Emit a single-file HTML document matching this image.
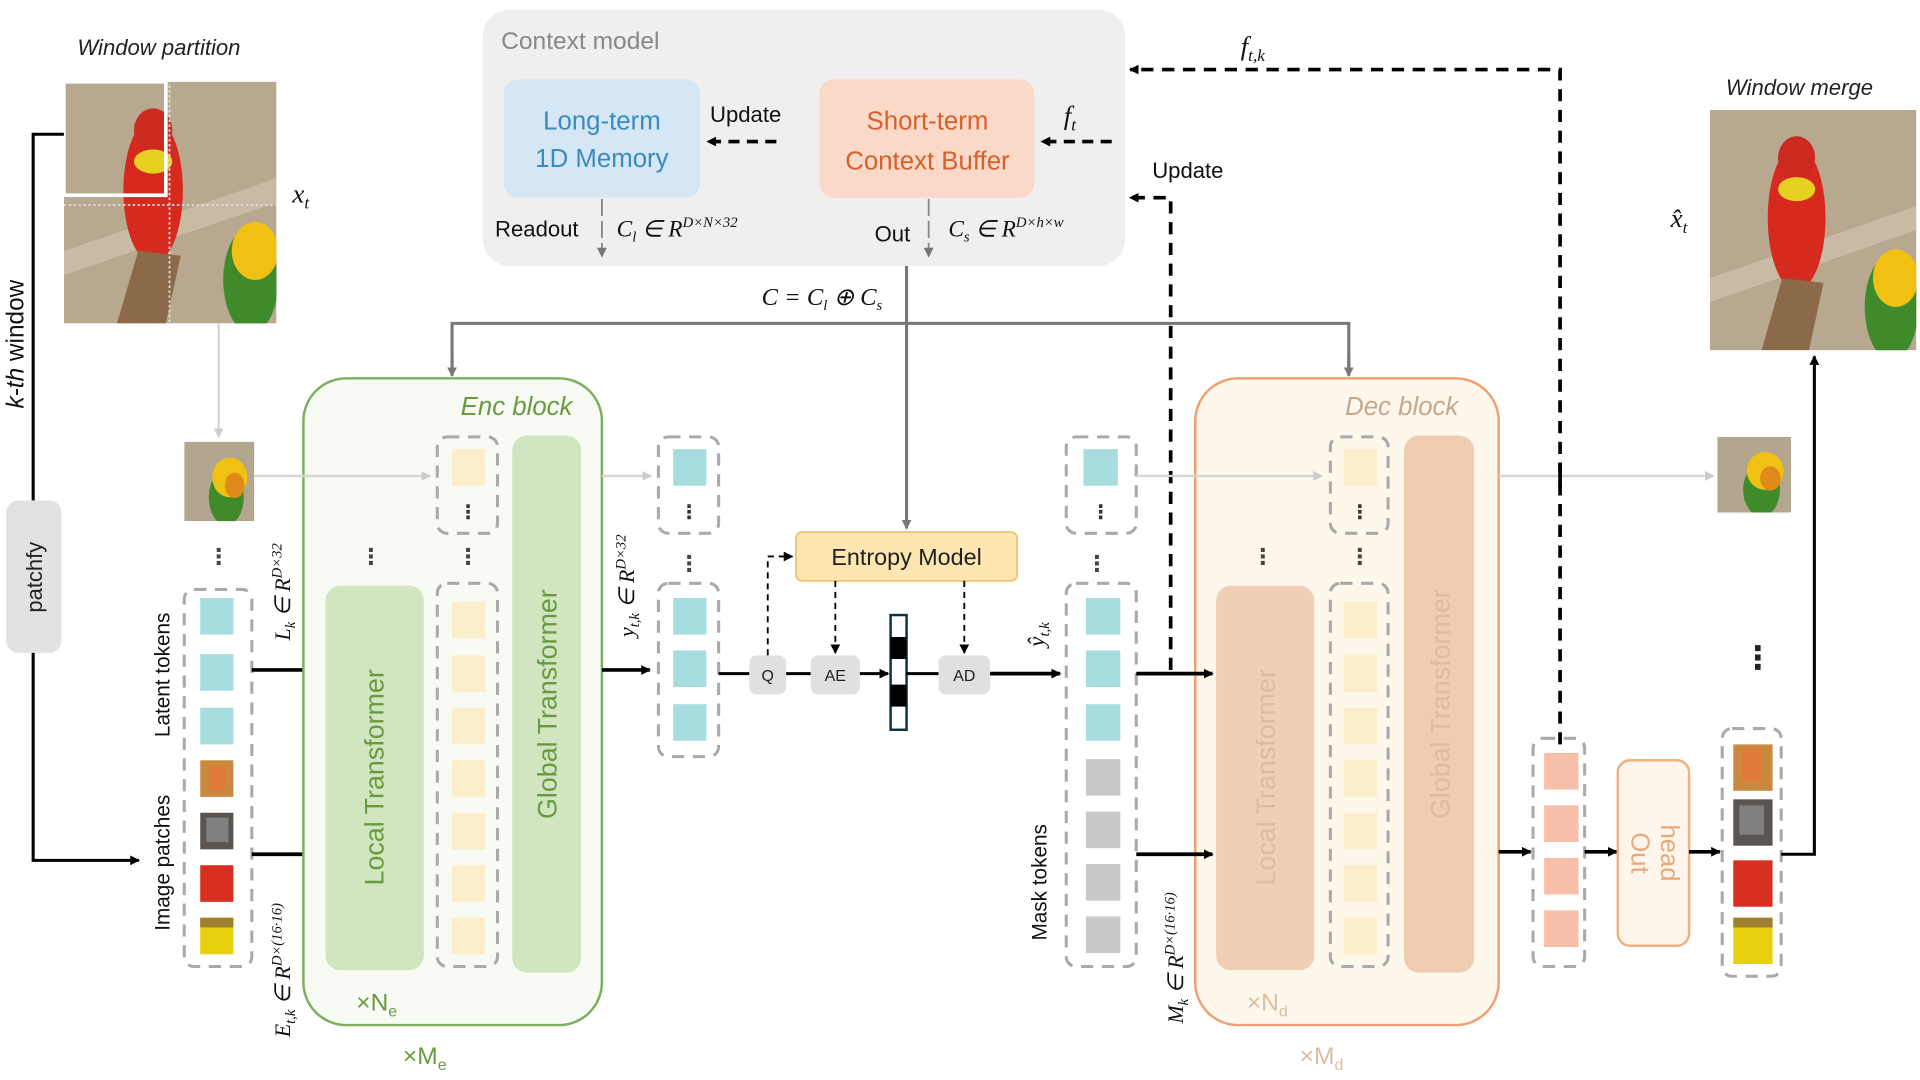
<!DOCTYPE html>
<html><head><meta charset="utf-8"><style>
html,body{margin:0;padding:0;background:#fff;width:1920px;height:1080px;overflow:hidden}
svg{display:block}
text{font-family:"Liberation Sans","DejaVu Sans",sans-serif}
.it{font-family:"Liberation Serif",serif;font-style:italic}
.si{font-style:italic}
</style></head><body>
<svg width="1920" height="1080" viewBox="0 0 1563 885" preserveAspectRatio="none" xmlns="http://www.w3.org/2000/svg">
<defs>
<marker id="ab" markerWidth="8" markerHeight="8" refX="7" refY="4" orient="auto" markerUnits="userSpaceOnUse"><path d="M0,0 L8,4 L0,8 z" fill="#000"/></marker>
<marker id="ag" markerWidth="8" markerHeight="8" refX="7" refY="4" orient="auto" markerUnits="userSpaceOnUse"><path d="M0,0 L8,4 L0,8 z" fill="#777"/></marker>
<marker id="al" markerWidth="8" markerHeight="8" refX="7" refY="4" orient="auto" markerUnits="userSpaceOnUse"><path d="M0,0 L8,4 L0,8 z" fill="#ccc"/></marker>
<g id="parrot">
<rect x="0" y="0" width="100" height="100" fill="#b8a890"/>
<path d="M0,70 L100,40 L100,50 L0,80z" fill="#cfc2ad" opacity=".7"/>
<ellipse cx="42" cy="45" rx="14" ry="30" fill="#d62a1f"/>
<ellipse cx="42" cy="20" rx="9" ry="9" fill="#cc2a1f"/>
<ellipse cx="42" cy="33" rx="9" ry="5" fill="#e6d020"/>
<path d="M25,100 L35,70 L55,72 L48,100z" fill="#8a6a48"/>
<ellipse cx="88" cy="82" rx="13" ry="22" fill="#3f8a2a"/>
<ellipse cx="90" cy="70" rx="11" ry="12" fill="#f0c012"/>
</g>
<g id="parrot2">
<rect x="0" y="0" width="100" height="100" fill="#b3a68f"/>
<ellipse cx="60" cy="70" rx="25" ry="35" fill="#3f8a2a"/>
<ellipse cx="65" cy="45" rx="25" ry="25" fill="#f0c012"/>
<ellipse cx="72" cy="55" rx="14" ry="16" fill="#e08a1a"/>
</g>
</defs>

<!-- Left images -->
<text x="63" y="45" class="si" font-size="18" fill="#222">Window partition</text>
<svg x="52" y="67" width="173" height="198" viewBox="0 0 100 100" preserveAspectRatio="none"><use href="#parrot"/></svg>
<line x1="138" y1="70" x2="138" y2="265" stroke="#ddd" stroke-width="1.5" stroke-dasharray="2,2"/>
<line x1="52" y1="168" x2="225" y2="168" stroke="#ddd" stroke-width="1.5" stroke-dasharray="2,2"/>
<rect x="52" y="67" width="83" height="93" fill="none" stroke="#fff" stroke-width="3"/>
<text x="238" y="166" class="it" font-size="22" fill="#111">x<tspan font-size="14" dy="5">t</tspan></text>

<path d="M52,110 H27 V705 H113" fill="none" stroke="#000" stroke-width="2.5" marker-end="url(#ab)"/>
<rect x="5" y="410" width="45" height="125" rx="10" fill="#e2e2e2"/>
<text transform="translate(34,473) rotate(-90)" text-anchor="middle" font-size="18" fill="#222">patchfy</text>
<rect x="3" y="205" width="22" height="150" fill="#fff"/>
<text transform="translate(19,282) rotate(-90)" text-anchor="middle" font-size="20" fill="#111"><tspan font-style="italic">k-th</tspan> window</text>

<line x1="178" y1="265" x2="178" y2="358" stroke="#ccc" stroke-width="1.5" marker-end="url(#al)"/>
<svg x="150" y="362" width="57" height="65" viewBox="0 0 100 100" preserveAspectRatio="none"><use href="#parrot2"/></svg>
<text x="178" y="462" text-anchor="middle" font-size="18" font-weight="bold" fill="#444">⋮</text>

<rect x="150" y="483" width="55" height="309" rx="8" fill="none" stroke="#aaa" stroke-width="2.5" stroke-dasharray="10,7"/>
<rect x="163" y="490" width="27" height="30" fill="#a8dde0"/>
<rect x="163" y="536" width="27" height="30" fill="#a8dde0"/>
<rect x="163" y="580" width="27" height="30" fill="#a8dde0"/>
<rect x="163" y="623" width="27" height="30" fill="#c98a40"/><rect x="170" y="628" width="14" height="20" fill="#e07a3a"/>
<rect x="163" y="666" width="27" height="30" fill="#5a5550"/><rect x="168" y="670" width="18" height="20" fill="#808080"/>
<rect x="163" y="709" width="27" height="30" fill="#d83020"/>
<rect x="163" y="752" width="27" height="30" fill="#e8d010"/><rect x="163" y="752" width="27" height="8" fill="#a08030"/>
<text transform="translate(138,553) rotate(-90)" text-anchor="middle" font-size="17" fill="#111">Latent tokens</text>
<text transform="translate(138,707) rotate(-90)" text-anchor="middle" font-size="17" fill="#111">Image patches</text>
<text transform="translate(236,485) rotate(-90)" text-anchor="middle" class="it" font-size="18" fill="#111">L<tspan font-size="12" dy="4">k</tspan><tspan dy="-4"> ∈ R</tspan><tspan font-size="12" dy="-7">D×32</tspan></text>
<text transform="translate(236,795) rotate(-90)" text-anchor="middle" class="it" font-size="18" fill="#111">E<tspan font-size="12" dy="4">t,k</tspan><tspan dy="-4"> ∈ R</tspan><tspan font-size="12" dy="-7">D×(16·16)</tspan></text>
<line x1="205" y1="549" x2="262" y2="549" stroke="#000" stroke-width="3" marker-end="url(#ab)"/>
<line x1="205" y1="700" x2="262" y2="700" stroke="#000" stroke-width="3" marker-end="url(#ab)"/>

<!-- Enc block -->
<rect x="247" y="310" width="243" height="530" rx="35" fill="#f8fbf3" stroke="#7cae5c" stroke-width="2"/>
<text x="375" y="340" class="si" font-size="21" fill="#6a9a40">Enc block</text>
<line x1="207" y1="390" x2="350" y2="390" stroke="#d5d5d5" stroke-width="2" marker-end="url(#al)"/>
<rect x="265" y="480" width="80" height="315" rx="12" fill="#d0e5c0"/>
<text transform="translate(312,637) rotate(-90)" text-anchor="middle" font-size="22" fill="#6a9a40">Local Transformer</text>
<text x="302" y="462" text-anchor="middle" font-size="18" font-weight="bold" fill="#444">⋮</text>
<rect x="356" y="358" width="49" height="79" rx="8" fill="none" stroke="#aaa" stroke-width="2.5" stroke-dasharray="10,7"/>
<rect x="368" y="368" width="27" height="30" fill="#fdeecb"/>
<text x="381" y="425" text-anchor="middle" font-size="16" font-weight="bold" fill="#333">⋮</text>
<text x="381" y="462" text-anchor="middle" font-size="18" font-weight="bold" fill="#444">⋮</text>
<rect x="356" y="478" width="49" height="314" rx="8" fill="none" stroke="#aaa" stroke-width="2.5" stroke-dasharray="10,7"/>
<g fill="#fdeecb"><rect x="368" y="493" width="27" height="30"/><rect x="368" y="537" width="27" height="30"/><rect x="368" y="580" width="27" height="30"/><rect x="368" y="623" width="27" height="30"/><rect x="368" y="666" width="27" height="30"/><rect x="368" y="709" width="27" height="30"/><rect x="368" y="752" width="27" height="30"/></g>
<rect x="417" y="357" width="56" height="440" rx="12" fill="#d0e5c0"/>
<text transform="translate(453,577) rotate(-90)" text-anchor="middle" font-size="22" fill="#6a9a40">Global Transformer</text>
<text x="290" y="828" font-size="20" fill="#6a9a40">×N<tspan font-size="13" dy="5">e</tspan></text>
<text x="328" y="872" font-size="20" fill="#6a9a40">×M<tspan font-size="13" dy="5">e</tspan></text>

<line x1="490" y1="390" x2="530" y2="390" stroke="#d5d5d5" stroke-width="2" marker-end="url(#al)"/>
<rect x="536" y="358" width="49" height="79" rx="8" fill="none" stroke="#aaa" stroke-width="2.5" stroke-dasharray="10,7"/>
<rect x="548" y="368" width="27" height="30" fill="#a8dde0"/>
<text x="561" y="425" text-anchor="middle" font-size="16" font-weight="bold" fill="#333">⋮</text>
<text x="561" y="468" text-anchor="middle" font-size="18" font-weight="bold" fill="#444">⋮</text>
<rect x="536" y="478" width="49" height="142" rx="8" fill="none" stroke="#aaa" stroke-width="2.5" stroke-dasharray="10,7"/>
<rect x="548" y="490" width="27" height="30" fill="#a8dde0"/><rect x="548" y="533" width="27" height="30" fill="#a8dde0"/><rect x="548" y="577" width="27" height="30" fill="#a8dde0"/>
<text transform="translate(516,480) rotate(-90)" text-anchor="middle" class="it" font-size="18" fill="#111">y<tspan font-size="12" dy="4">t,k</tspan><tspan dy="-4"> ∈ R</tspan><tspan font-size="12" dy="-7">D×32</tspan></text>
<line x1="490" y1="549" x2="529" y2="549" stroke="#000" stroke-width="3" marker-end="url(#ab)"/>

<!-- Entropy coding -->
<line x1="585" y1="552" x2="610" y2="552" stroke="#000" stroke-width="2.5"/>
<rect x="610" y="537" width="30" height="32" rx="6" fill="#e0e0e0"/><text x="625" y="558" text-anchor="middle" font-size="13" fill="#222">Q</text>
<line x1="640" y1="552" x2="660" y2="552" stroke="#000" stroke-width="2.5"/>
<rect x="660" y="537" width="40" height="32" rx="6" fill="#e0e0e0"/><text x="680" y="558" text-anchor="middle" font-size="13" fill="#222">AE</text>
<line x1="700" y1="552" x2="723" y2="552" stroke="#000" stroke-width="2.5" marker-end="url(#ab)"/>
<rect x="725" y="504" width="13" height="94" fill="#fff" stroke="#0c3040" stroke-width="2"/>
<rect x="725" y="522" width="13" height="18" fill="#000"/><rect x="725" y="561" width="13" height="18" fill="#000"/>
<line x1="738" y1="552" x2="764" y2="552" stroke="#000" stroke-width="2.5"/>
<rect x="764" y="537" width="42" height="32" rx="6" fill="#e0e0e0"/><text x="785" y="558" text-anchor="middle" font-size="13" fill="#222">AD</text>
<line x1="806" y1="552" x2="863" y2="552" stroke="#000" stroke-width="3" marker-end="url(#ab)"/>
<text transform="translate(850,520) rotate(-90)" text-anchor="middle" class="it" font-size="19" fill="#111">ŷ<tspan font-size="12" dy="4">t,k</tspan></text>
<rect x="648" y="436" width="180" height="40" rx="5" fill="#fde6b0" stroke="#f0c470" stroke-width="1.5"/>
<text x="738" y="463" text-anchor="middle" font-size="19" fill="#222">Entropy Model</text>
<path d="M625,537 V456 H645" fill="none" stroke="#000" stroke-width="1.5" stroke-dasharray="5,4" marker-end="url(#ab)"/>
<line x1="680" y1="476" x2="680" y2="535" stroke="#000" stroke-width="1.5" stroke-dasharray="5,4" marker-end="url(#ab)"/>
<line x1="785" y1="476" x2="785" y2="535" stroke="#000" stroke-width="1.5" stroke-dasharray="5,4" marker-end="url(#ab)"/>

<!-- Context model -->
<rect x="393" y="8" width="523" height="210" rx="22" fill="#efefef"/>
<text x="408" y="40" font-size="20" fill="#888">Context model</text>
<rect x="410" y="65" width="160" height="97" rx="12" fill="#d5e6f5"/>
<text x="490" y="106" text-anchor="middle" font-size="21" fill="#3a8cc0">Long-term</text>
<text x="490" y="137" text-anchor="middle" font-size="21" fill="#3a8cc0">1D Memory</text>
<rect x="667" y="65" width="175" height="97" rx="12" fill="#fbd9c9"/>
<text x="755" y="106" text-anchor="middle" font-size="21" fill="#d8602a">Short-term</text>
<text x="755" y="139" text-anchor="middle" font-size="21" fill="#d8602a">Context Buffer</text>
<text x="578" y="100" font-size="18" fill="#111">Update</text>
<line x1="632" y1="116" x2="576" y2="116" stroke="#000" stroke-width="3" stroke-dasharray="9,6" marker-end="url(#ab)"/>
<text x="866" y="102" class="it" font-size="22" fill="#111">f<tspan font-size="14" dy="5">t</tspan></text>
<line x1="905" y1="116" x2="848" y2="116" stroke="#000" stroke-width="3" stroke-dasharray="9,6" marker-end="url(#ab)"/>
<text x="403" y="194" font-size="18" fill="#111">Readout</text>
<line x1="490" y1="163" x2="490" y2="210" stroke="#888" stroke-width="1.5" stroke-dasharray="14,4" marker-end="url(#ag)"/>
<text x="502" y="194" class="it" font-size="19" fill="#111">C<tspan font-size="12" dy="4">l</tspan><tspan dy="-4"> ∈ R</tspan><tspan font-size="12" dy="-8">D×N×32</tspan></text>
<text x="712" y="198" font-size="18" fill="#111">Out</text>
<line x1="756" y1="163" x2="756" y2="210" stroke="#888" stroke-width="1.5" stroke-dasharray="14,4" marker-end="url(#ag)"/>
<text x="772" y="194" class="it" font-size="19" fill="#111">C<tspan font-size="12" dy="4">s</tspan><tspan dy="-4"> ∈ R</tspan><tspan font-size="12" dy="-8">D×h×w</tspan></text>
<text x="620" y="250" class="it" font-size="20" fill="#111">C = C<tspan font-size="12" dy="4">l</tspan><tspan dy="-4"> ⊕ C</tspan><tspan font-size="12" dy="4">s</tspan></text>
<line x1="738" y1="218" x2="738" y2="433" stroke="#777" stroke-width="2.5" marker-end="url(#ag)"/>
<path d="M368,307 V265 H1098 V307" fill="none" stroke="#777" stroke-width="2.5"/>
<line x1="368" y1="290" x2="368" y2="308" stroke="#777" stroke-width="2.5" marker-end="url(#ag)"/>
<line x1="1098" y1="290" x2="1098" y2="308" stroke="#777" stroke-width="2.5" marker-end="url(#ag)"/>

<!-- feedback dashed -->
<text x="1010" y="45" class="it" font-size="22" fill="#111">f<tspan font-size="14" dy="5">t,k</tspan></text>
<path d="M1270,610 V57 H920" fill="none" stroke="#000" stroke-width="3" stroke-dasharray="10,7" marker-end="url(#ab)"/>
<text x="938" y="146" font-size="18" fill="#111">Update</text>
<path d="M953,549 V162 H920" fill="none" stroke="#000" stroke-width="3" stroke-dasharray="10,7" marker-end="url(#ab)"/>

<!-- Decoder side -->
<rect x="868" y="358" width="57" height="79" rx="8" fill="none" stroke="#aaa" stroke-width="2.5" stroke-dasharray="10,7"/>
<rect x="882" y="368" width="28" height="30" fill="#a8dde0"/>
<text x="896" y="425" text-anchor="middle" font-size="16" font-weight="bold" fill="#333">⋮</text>
<text x="893" y="468" text-anchor="middle" font-size="18" font-weight="bold" fill="#444">⋮</text>
<rect x="868" y="478" width="57" height="314" rx="8" fill="none" stroke="#aaa" stroke-width="2.5" stroke-dasharray="10,7"/>
<g fill="#a8dde0"><rect x="884" y="490" width="28" height="30"/><rect x="884" y="533" width="28" height="30"/><rect x="884" y="577" width="28" height="30"/></g>
<g fill="#c9c9c9"><rect x="884" y="622" width="28" height="30"/><rect x="884" y="665" width="28" height="30"/><rect x="884" y="708" width="28" height="30"/><rect x="884" y="751" width="28" height="30"/></g>
<text transform="translate(852,723) rotate(-90)" text-anchor="middle" font-size="17" fill="#111">Mask tokens</text>
<text transform="translate(963,785) rotate(-90)" text-anchor="middle" class="it" font-size="18" fill="#111">M<tspan font-size="12" dy="4">k</tspan><tspan dy="-4"> ∈ R</tspan><tspan font-size="12" dy="-7">D×(16·16)</tspan></text>

<rect x="973" y="310" width="247" height="530" rx="35" fill="#fdf7ec" stroke="#f0a070" stroke-width="2"/>
<text x="1095" y="340" class="si" font-size="21" fill="#c9a68a">Dec block</text>
<line x1="925" y1="390" x2="1076" y2="390" stroke="#d5d5d5" stroke-width="2" marker-end="url(#al)"/>
<line x1="1220" y1="390" x2="1395" y2="390" stroke="#d5d5d5" stroke-width="2" marker-end="url(#al)"/>
<line x1="1270" y1="380" x2="1270" y2="400" stroke="#000" stroke-width="3"/>
<line x1="925" y1="552" x2="987" y2="552" stroke="#000" stroke-width="3" marker-end="url(#ab)"/>
<line x1="925" y1="700" x2="987" y2="700" stroke="#000" stroke-width="3" marker-end="url(#ab)"/>
<rect x="990" y="480" width="80" height="315" rx="12" fill="#f0d0b5"/>
<text transform="translate(1038,637) rotate(-90)" text-anchor="middle" font-size="22" fill="#dcbda2">Local Transformer</text>
<text x="1028" y="462" text-anchor="middle" font-size="18" font-weight="bold" fill="#444">⋮</text>
<rect x="1083" y="358" width="47" height="79" rx="8" fill="none" stroke="#aaa" stroke-width="2.5" stroke-dasharray="10,7"/>
<rect x="1094" y="368" width="27" height="30" fill="#fdeecb"/>
<text x="1107" y="425" text-anchor="middle" font-size="16" font-weight="bold" fill="#333">⋮</text>
<text x="1107" y="462" text-anchor="middle" font-size="18" font-weight="bold" fill="#444">⋮</text>
<rect x="1083" y="478" width="47" height="314" rx="8" fill="none" stroke="#aaa" stroke-width="2.5" stroke-dasharray="10,7"/>
<g fill="#fdeecb"><rect x="1094" y="493" width="27" height="30"/><rect x="1094" y="537" width="27" height="30"/><rect x="1094" y="580" width="27" height="30"/><rect x="1094" y="623" width="27" height="30"/><rect x="1094" y="666" width="27" height="30"/><rect x="1094" y="709" width="27" height="30"/><rect x="1094" y="752" width="27" height="30"/></g>
<rect x="1143" y="357" width="57" height="440" rx="12" fill="#f0cdb0"/>
<text transform="translate(1180,577) rotate(-90)" text-anchor="middle" font-size="22" fill="#dcbda2">Global Transformer</text>
<text x="1015" y="828" font-size="20" fill="#dcbda2">×N<tspan font-size="13" dy="5">d</tspan></text>
<text x="1058" y="872" font-size="20" fill="#dcbda2">×M<tspan font-size="13" dy="5">d</tspan></text>

<line x1="1220" y1="698" x2="1246" y2="698" stroke="#000" stroke-width="3" marker-end="url(#ab)"/>
<rect x="1248" y="605" width="42" height="187" rx="8" fill="none" stroke="#aaa" stroke-width="2.5" stroke-dasharray="10,7"/>
<g fill="#f7bfa8"><rect x="1257" y="617" width="28" height="30"/><rect x="1257" y="660" width="28" height="30"/><rect x="1257" y="703" width="28" height="30"/><rect x="1257" y="746" width="28" height="30"/></g>
<line x1="1290" y1="698" x2="1316" y2="698" stroke="#000" stroke-width="3" marker-end="url(#ab)"/>
<rect x="1317" y="623" width="58" height="152" rx="10" fill="#fef6ec" stroke="#f0b080" stroke-width="2"/>
<text transform="translate(1328,699) rotate(90)" text-anchor="middle" font-size="21" fill="#e8a878">Out</text>
<text transform="translate(1352,699) rotate(90)" text-anchor="middle" font-size="21" fill="#e8a878">head</text>
<line x1="1375" y1="698" x2="1400" y2="698" stroke="#000" stroke-width="3" marker-end="url(#ab)"/>
<rect x="1402" y="597" width="48" height="203" rx="8" fill="none" stroke="#aaa" stroke-width="2.5" stroke-dasharray="10,7"/>
<rect x="1411" y="610" width="32" height="38" fill="#c98a40"/><rect x="1418" y="614" width="16" height="26" fill="#e07a3a"/>
<rect x="1411" y="655" width="32" height="38" fill="#5a5550"/><rect x="1416" y="660" width="20" height="24" fill="#808080"/>
<rect x="1411" y="705" width="32" height="38" fill="#d83020"/>
<rect x="1411" y="752" width="32" height="38" fill="#e8d010"/><rect x="1411" y="752" width="32" height="8" fill="#a08030"/>
<text x="1431" y="548" text-anchor="middle" font-size="26" font-weight="bold" fill="#222">⋮</text>
<path d="M1450,700 H1477 V292" fill="none" stroke="#000" stroke-width="2.5" marker-end="url(#ab)"/>
<svg x="1398" y="358" width="60" height="62" viewBox="0 0 100 100" preserveAspectRatio="none"><use href="#parrot2"/></svg>

<text x="1405" y="78" class="si" font-size="18" fill="#222">Window merge</text>
<svg x="1392" y="90" width="168" height="197" viewBox="0 0 100 100" preserveAspectRatio="none"><use href="#parrot"/></svg>
<text x="1360" y="186" class="it" font-size="22" fill="#111">x̂<tspan font-size="14" dy="5">t</tspan></text>
</svg>
</body></html>
